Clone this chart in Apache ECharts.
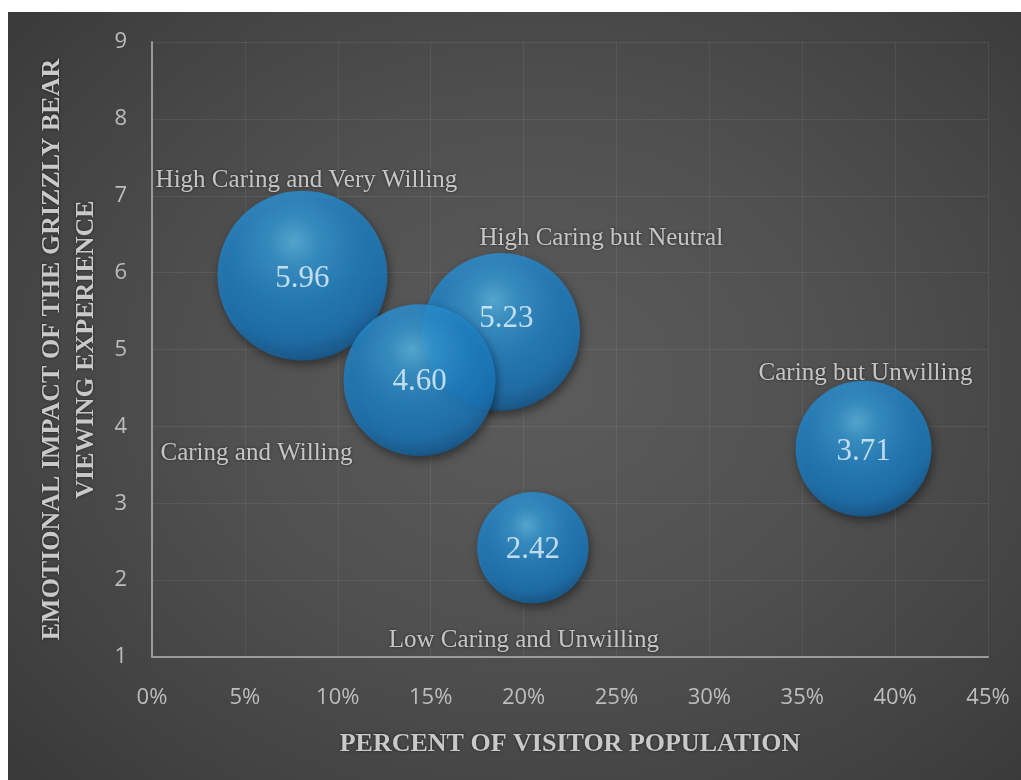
<!DOCTYPE html>
<html>
<head>
<meta charset="utf-8">
<script src="https://cdn.jsdelivr.net/npm/echarts@6/dist/echarts.min.js"></script>
<style>
  html, body { margin: 0; padding: 0; background: #ffffff; }
  #panel {
    position: absolute; left: 8px; top: 12px; width: 1013px; height: 768px;
    background: radial-gradient(ellipse 70% 75% at 52% 48%, #5c5c5c 0%, #505050 45%, #424242 80%, #393939 100%);
  }
  #chart { width: 100%; height: 100%; }
</style>
</head>
<body>
<div id="panel"><div id="chart"></div></div>
<script>
// Visitor segments: share of visitor population vs. emotional impact score
const segments = [
  'High Caring and Very Willing',
  'High Caring but Neutral',
  'Caring and Willing',
  'Caring but Unwilling',
  'Low Caring and Unwilling'
];
const populationPct = [8.1, 18.8, 14.4, 38.3, 20.5];
const impactScore = [5.96, 5.23, 4.60, 3.71, 2.42];
const bubbleWeight = [100, 86, 80, 64, 43];
const xTicks = [0, 5, 10, 15, 20, 25, 30, 35, 40, 45];
const yTicks = [1, 2, 3, 4, 5, 6, 7, 8, 9];

// bubble area proportional to weight
const maxDiameter = 170;
const diameter = w => maxDiameter * Math.sqrt(w / 100);

// where each segment name sits relative to its bubble
const nameOffsets = [[4, -95], [100, -93], [-163, 73], [2, -75], [-9, 93]];
const valueOffsets = [[0, 3], [5, -13], [0, 2], [0, 3], [0, 2]];

const sphere = {
  type: 'radial', x: 0.45, y: 0.3, r: 0.74,
  colorStops: [
    { offset: 0, color: '#5cc2f2' },
    { offset: 0.2, color: '#37a1e0' },
    { offset: 0.5, color: '#2189d0' },
    { offset: 0.78, color: '#1b7bc2' },
    { offset: 0.92, color: '#1565a3' },
    { offset: 1, color: '#0d4675' }
  ]
};

const points = segments.map((name, i) => ({
  name,
  value: [populationPct[i], impactScore[i], bubbleWeight[i]],
  label: { offset: valueOffsets[i] }
}));
const namePoints = segments.map((name, i) => ({
  name,
  value: [populationPct[i], impactScore[i]],
  label: { offset: nameOffsets[i] }
}));

const serif = '"Liberation Serif", "Times New Roman", serif';
const sans = '"Open Sans", "Noto Sans", sans-serif';

const chart = echarts.init(document.getElementById('chart'), null, { renderer: 'canvas' });
chart.setOption({
  backgroundColor: 'transparent',
  animation: false,
  grid: { left: 144, right: 33, top: 30, bottom: 123 },
  xAxis: {
    type: 'value',
    min: xTicks[0], max: xTicks[xTicks.length - 1], interval: xTicks[1] - xTicks[0],
    name: 'PERCENT OF VISITOR POPULATION',
    nameLocation: 'middle', nameGap: 74,
    nameTextStyle: { fontFamily: serif, fontWeight: 'bold', fontSize: 26, color: '#c9c9c9',
      textShadowColor: 'rgba(0,0,0,0.6)', textShadowBlur: 3 },
    axisLine: { show: true, lineStyle: { color: '#9a9a9a', width: 2 } },
    axisTick: { show: false },
    axisLabel: { formatter: v => v + '%', margin: 30, fontFamily: sans, fontSize: 22, color: '#bdbdbd' },
    splitLine: { show: true, lineStyle: { color: 'rgba(255,255,255,0.07)', width: 1 } }
  },
  yAxis: {
    type: 'value',
    min: yTicks[0], max: yTicks[yTicks.length - 1], interval: yTicks[1] - yTicks[0],
    name: 'EMOTIONAL IMPACT OF THE GRIZZLY BEAR\nVIEWING EXPERIENCE',
    nameLocation: 'middle', nameGap: 44, nameRotate: 90,
    nameTextStyle: { fontFamily: serif, fontWeight: 'bold', fontSize: 26, lineHeight: 34, color: '#c9c9c9',
      align: 'center', textShadowColor: 'rgba(0,0,0,0.6)', textShadowBlur: 3 },
    axisLine: { show: true, lineStyle: { color: '#9a9a9a', width: 2 } },
    axisTick: { show: false },
    axisLabel: { margin: 25, fontFamily: sans, fontSize: 22, color: '#bdbdbd' },
    splitLine: { show: true, lineStyle: { color: 'rgba(255,255,255,0.07)', width: 1 } }
  },
  series: [
    {
      type: 'scatter',
      data: points,
      symbolSize: v => diameter(v[2]),
      itemStyle: {
        color: sphere,
        shadowColor: 'rgba(0,0,0,0.55)', shadowBlur: 10, shadowOffsetX: 2, shadowOffsetY: 4
      },
      label: {
        show: true, position: 'inside',
        formatter: p => p.value[1].toFixed(2),
        fontFamily: serif, fontSize: 31, color: '#e6f2fa'
      },
      z: 3
    },
    {
      type: 'scatter',
      data: namePoints,
      symbolSize: 0,
      silent: true,
      label: {
        show: true, position: 'inside',
        formatter: p => p.name,
        fontFamily: serif, fontSize: 25, color: '#e9e9e9',
        textShadowColor: 'rgba(0,0,0,0.7)', textShadowBlur: 3
      },
      z: 4
    }
  ]
});
</script>
</body>
</html>
